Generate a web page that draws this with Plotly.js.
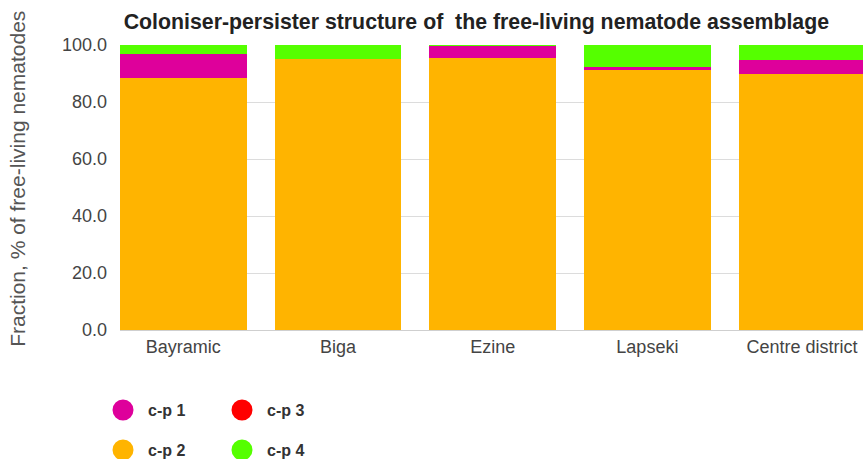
<!DOCTYPE html>
<html>
<head>
<meta charset="utf-8">
<script src="https://cdn.plot.ly/plotly-3.0.1.min.js"></script>
<style>
  html, body { margin: 0; padding: 0; background: #fff; overflow: hidden; }
  #chart { width: 863px; height: 459px; }
</style>
</head>
<body>
<div id="chart"></div>
<script>
// Sampling districts
const districts = ['Bayramic', 'Biga', 'Ezine', 'Lapseki', 'Centre district'];

// Share of each c-p class, % of free-living nematodes
const cp1 = [8.2, 0.0, 4.4, 1.1, 4.9];
const cp2 = [88.5, 95.0, 95.3, 91.1, 89.9];
const cp3 = [0.0, 0.0, 0.0, 0.0, 0.0];
const cp4 = [3.3, 5.0, 0.3, 7.8, 5.2];

const yTicks = [0, 20, 40, 60, 80, 100];

const colors = {
  cp1: '#DE009B',
  cp2: '#FFB400',
  cp3: '#FF0000',
  cp4: '#55FF00'
};

const FONT = 'Arial, "Liberation Sans", sans-serif';

// Stacked bars, bottom to top: c-p 2, c-p 1, c-p 3, c-p 4
function bar(name, values, color) {
  return {
    type: 'bar',
    name: name,
    x: districts,
    y: values,
    marker: { color: color, line: { width: 0 } },
    showlegend: false,
    hovertemplate: '%{x}<br>' + name + ': %{y:.1f}%<extra></extra>'
  };
}

// Circle swatches for the two-row legend
function key(name, color, legendId) {
  return {
    type: 'scatter',
    mode: 'markers',
    name: name,
    x: [null],
    y: [null],
    legend: legendId,
    marker: { color: color, size: 16, symbol: 'circle', line: { color: color, width: 5 } },
    hoverinfo: 'skip'
  };
}

const data = [
  bar('c-p 2', cp2, colors.cp2),
  bar('c-p 1', cp1, colors.cp1),
  bar('c-p 3', cp3, colors.cp3),
  bar('c-p 4', cp4, colors.cp4),
  key('c-p 1', colors.cp1, 'legend'),
  key('c-p 3', colors.cp3, 'legend'),
  key('c-p 2', colors.cp2, 'legend2'),
  key('c-p 4', colors.cp4, 'legend2')
];

const legendBase = {
  orientation: 'h',
  traceorder: 'normal',
  xanchor: 'left',
  yanchor: 'middle',
  x: -0.0296,
  itemwidth: 40,
  entrywidth: 64,
  entrywidthmode: 'pixels',
  itemclick: false,
  itemdoubleclick: false,
  bgcolor: 'rgba(0,0,0,0)',
  font: { family: FONT, size: 16, color: '#333', weight: 'bold' }
};

const layout = {
  width: 863,
  height: 459,
  margin: { l: 120, r: 0, t: 45, b: 129, autoexpand: false },
  paper_bgcolor: '#fff',
  plot_bgcolor: '#fff',
  barmode: 'stack',
  bargap: 0.182,
  font: { family: FONT, color: '#444' },
  title: {
    text: '<b>Coloniser-persister structure of  the free-living nematode assemblage</b>',
    xref: 'paper',
    x: 0.005,
    xanchor: 'left',
    yref: 'container',
    y: 0.954,
    yanchor: 'middle',
    font: { family: FONT, size: 21.3, color: '#222' }
  },
  xaxis: {
    type: 'category',
    range: [-0.409, 4.394],
    showgrid: false,
    showline: false,
    zeroline: false,
    ticks: '',
    ticklabelstandoff: 4,
    tickfont: { family: FONT, size: 18, color: '#444' }
  },
  yaxis: {
    range: [0, 100],
    tickvals: yTicks,
    tickformat: '.1f',
    showgrid: true,
    gridcolor: '#dcdcdc',
    gridwidth: 1,
    zeroline: true,
    zerolinecolor: '#cfcfcf',
    zerolinewidth: 1,
    ticks: '',
    ticklabelstandoff: 12,
    tickfont: { family: FONT, size: 18, color: '#444' }
  },
  legend: Object.assign({}, legendBase, { y: -0.281 }),
  legend2: Object.assign({}, legendBase, { y: -0.421 }),
  annotations: [{
    text: 'Fraction, % of free-living nematodes',
    xref: 'paper',
    yref: 'paper',
    x: -0.138,
    y: 0.532,
    xanchor: 'center',
    yanchor: 'middle',
    textangle: -90,
    showarrow: false,
    font: { family: FONT, size: 21, color: '#555' }
  }]
};

Plotly.newPlot('chart', data, layout, { displayModeBar: false, responsive: false });
</script>
</body>
</html>
